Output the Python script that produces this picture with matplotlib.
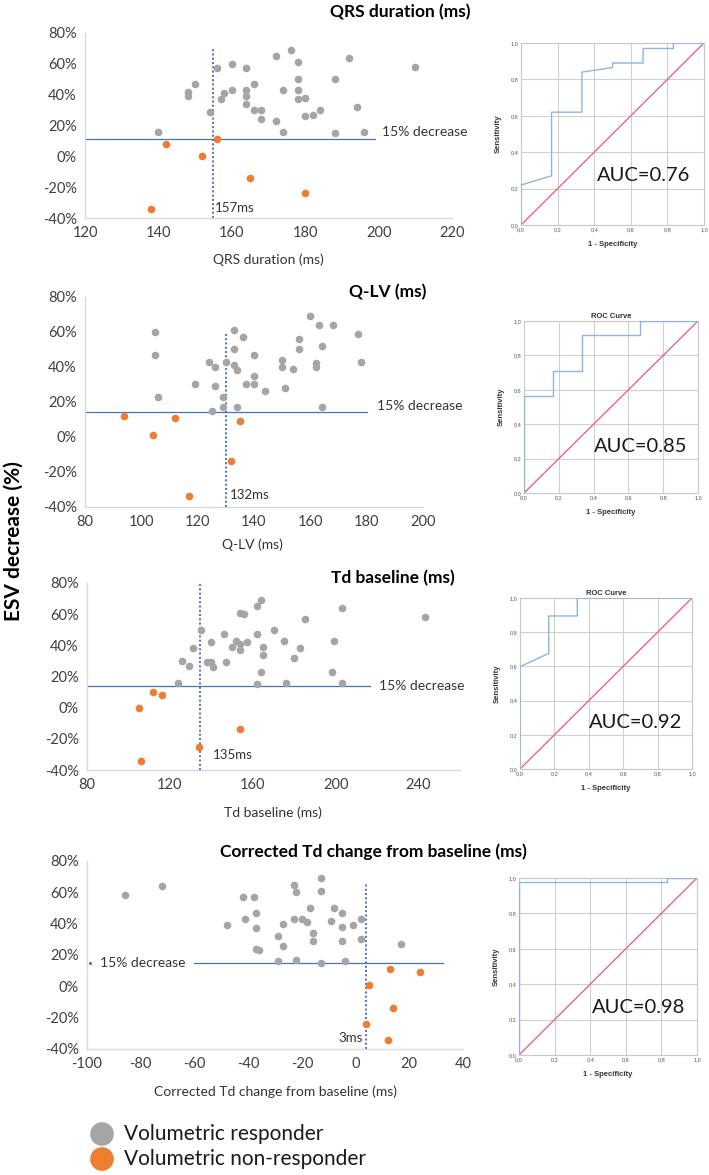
import matplotlib
matplotlib.use("Agg")
import matplotlib.pyplot as plt
from matplotlib.ticker import FuncFormatter, FixedLocator

plt.rcParams['font.family'] = ['Lato', 'DejaVu Sans']
plt.rcParams['axes.unicode_minus'] = False

W, H = 709, 1175
GRAY = '#A5A5A5'
ORANGE = '#ED7D31'
LINEBLUE = '#4472C4'

# ---- data ----
# QRS duration
qrs_resp_x = [140, 148, 148, 150, 154, 156, 157, 158, 160, 160, 164, 164, 164, 164, 166, 166, 168, 168,
              172, 172, 174, 174, 176, 178, 178, 178, 178, 180, 180, 182, 184, 188, 188, 192, 194, 196, 210]
qrs_resp_y = [16, 42, 39, 47, 29, 57, 37, 41, 60, 43, 57, 43, 39, 34, 47, 30, 30, 24,
              65, 23, 43, 16, 69, 61, 50, 43, 37, 38, 26, 27, 30, 50, 15, 64, 32, 16, 58]
qrs_non_x = [142, 152, 156, 165, 180, 138]
qrs_non_y = [8, 0, 11, -14, -24, -34]

# Q-LV
qlv_resp_x = [105, 105, 106, 119, 124, 125, 126, 126, 129, 129, 130, 133, 133, 133, 134, 134, 136, 137,
              140, 140, 140, 144, 150, 150, 151, 154, 160, 156, 156, 163, 162, 162, 164, 164, 168, 177, 178]
qlv_resp_y = [60, 47, 23, 30, 43, 15, 40, 29, 23, 17, 43, 61, 50, 41, 38, 17, 57, 30,
              47, 35, 30, 26, 44, 40, 28, 39, 69, 56, 50, 64, 42, 40, 52, 17, 64, 59, 43]
qlv_non_x = [94, 104, 112, 135, 132, 117]
qlv_non_y = [12, 1, 11, 9, -14, -34]

# Td baseline
td_resp_x = [124, 126, 129, 131, 135, 140, 138, 140, 141, 146, 147, 150, 152, 154, 154, 154, 157, 156,
             162, 162, 164, 164, 162, 165, 165, 170, 175, 176, 180, 183, 185, 198, 199, 203, 203, 243]
td_resp_y = [16, 30, 27, 38, 50, 42, 29, 29, 26, 47, 29, 39, 43, 61, 37, 41, 42, 60,
             65, 47, 69, 23, 15, 39, 34, 50, 43, 16, 32, 38, 57, 23, 43, 64, 16, 58]
td_non_x = [112, 116, 105, 106, 134, 154]
td_non_y = [10, 8, 0, -34, -25, -14]

# Corrected Td change from baseline
ctd_resp_x = [-86, -72, -48, -42, -41, -38, -37, -37, -37, -36, -29, -29, -27, -27, -23, -23, -22, -22,
              -20, -18, -17, -16, -16, -13, -13, -13, -9, -8, -5, -5, -5, -4, -1, 2, 2, 17]
ctd_resp_y = [58, 64, 39, 57, 43, 57, 47, 37, 24, 23, 32, 16, 40, 26, 65, 43, 60, 17,
              43, 41, 50, 34, 29, 69, 61, 15, 42, 50, 47, 38, 29, 16, 39, 43, 30, 27]
ctd_non_x = [4, 5, 13, 14, 12, 24]
ctd_non_y = [-24, 1, 11, -14, -34, 9]

# ROC curves (1 - specificity, sensitivity)
roc_qrs_x = [0, 0, 0.167, 0.167, 0.333, 0.333, 0.5, 0.5, 0.667, 0.667, 0.833, 0.833, 1.0]
roc_qrs_y = [0, 0.22, 0.27, 0.62, 0.62, 0.84, 0.865, 0.89, 0.89, 0.97, 0.97, 1.0, 1.0]
roc_qlv_x = [0, 0, 0.167, 0.167, 0.333, 0.333, 0.667, 0.667, 1.0]
roc_qlv_y = [0, 0.566, 0.566, 0.707, 0.707, 0.921, 0.921, 1.0, 1.0]
roc_td_x = [0, 0, 0.167, 0.167, 0.333, 0.333, 1.0]
roc_td_y = [0, 0.598, 0.676, 0.895, 0.895, 1.0, 1.0]
roc_ctd_x = [0, 0, 0.831, 0.831, 1.0]
roc_ctd_y = [0, 0.976, 0.976, 1.0, 1.0]
auc_values = ['0.76', '0.85', '0.92', '0.98']


def px_axes(fig, x0, y0, x1, y1):
    return fig.add_axes([x0 / W, 1 - y1 / H, (x1 - x0) / W, (y1 - y0) / H])


def scatter_panel(ax, rx, ry, nx, ny, xlim, xticks, cut, cut_top, hline_y, hline_x, cut_label,
                  cut_label_xy, dec_xy, dec_ha='left'):
    ax.scatter(rx, ry, s=30, color=GRAY, zorder=3, linewidths=0)
    ax.scatter(nx, ny, s=30, color=ORANGE, zorder=3, linewidths=0)
    ax.plot(hline_x, [hline_y, hline_y], color=LINEBLUE, lw=0.9, zorder=2)
    ax.plot([cut, cut], [-40, cut_top], color=LINEBLUE, lw=1.4, ls=(0, (1, 1.2)), zorder=2)
    ax.text(cut_label_xy[0], cut_label_xy[1], cut_label, fontsize=9.5, color='#333333',
            ha='left' if cut_label != '3ms' else 'right', va='center')
    ax.text(dec_xy[0], dec_xy[1], '15% decrease', fontsize=10, color='#333333', ha=dec_ha, va='center')
    ax.set_xlim(*xlim)
    ax.set_ylim(-40, 80)
    ax.xaxis.set_major_locator(FixedLocator(xticks))
    ax.yaxis.set_major_locator(FixedLocator(range(-40, 81, 20)))
    ax.yaxis.set_major_formatter(FuncFormatter(lambda v, p: f'{int(v)}%'))
    for s in ['top', 'right']:
        ax.spines[s].set_visible(False)
    for s in ['left', 'bottom']:
        ax.spines[s].set_color('#D9D9D9')
        ax.spines[s].set_linewidth(1.0)
    ax.tick_params(length=0, labelsize=10.5, colors='#404040', pad=6)
    ax.set_facecolor('none')


def roc_panel(ax, fx, fy, auc, title=None):
    ax.plot(fx, fy, color='#8DB4E2', lw=1.0, zorder=3)
    ax.plot([0, 1], [0, 1], color='#E8587A', lw=0.9, zorder=2)
    ax.set_xlim(0, 1)
    ax.set_ylim(0, 1)
    ticks = [0, 0.2, 0.4, 0.6, 0.8, 1.0]
    ax.set_xticks(ticks)
    ax.set_yticks(ticks)
    lab = [f'{t:.1f}'.replace('.', ',') for t in ticks]
    ax.set_xticklabels(lab, family='Liberation Sans')
    ax.set_yticklabels(lab, family='Liberation Sans')
    ax.tick_params(length=0, labelsize=4, colors='#555555', pad=2)
    ax.grid(True, color='#D0D0D0', lw=0.8)
    for s in ax.spines.values():
        s.set_color('#C8C8C8')
        s.set_linewidth(0.8)
    ax.set_xlabel('1 - Specificity', fontsize=5.5, fontweight='bold', family='Liberation Sans',
                  color='#333333', labelpad=6)
    ax.set_ylabel('Sensitivity', fontsize=5.5, fontweight='bold', family='Liberation Sans',
                  color='#333333', labelpad=6)
    if title:
        ax.set_title(title, fontsize=5.5, fontweight='bold', family='Liberation Sans',
                     color='#333333', pad=2)
    ax.text(0.67, 0.27, f'AUC={auc}', fontsize=14.5, color='#1a1a1a', ha='center', va='center')


fig = plt.figure(figsize=(W / 100, H / 100), dpi=100)

# panel 1: QRS duration
ax1 = px_axes(fig, 85, 33, 452, 218)
scatter_panel(ax1, qrs_resp_x, qrs_resp_y, qrs_non_x, qrs_non_y, (120, 220), range(120, 221, 20),
              155, 70, 11.2, [120, 199], '157ms', (155.3, -33.5), (201, 15.6))
fig.text(400 / W, 1 - 12 / H, 'QRS duration (ms)', fontsize=12.5, fontweight='bold', ha='center', va='center')
fig.text(268 / W, 1 - 260 / H, 'QRS duration (ms)', fontsize=10, color='#333333', ha='center', va='center')

# panel 2: Q-LV
ax2 = px_axes(fig, 85, 297, 423, 507)
scatter_panel(ax2, qlv_resp_x, qlv_resp_y, qlv_non_x, qlv_non_y, (80, 200), range(80, 201, 20),
              130, 59, 14, [80, 180], '132ms', (131.5, -33), (183.5, 17.5))
fig.text(388 / W, 1 - 292 / H, 'Q-LV (ms)', fontsize=12.5, fontweight='bold', ha='center', va='center')
fig.text(252 / W, 1 - 545 / H, 'Q-LV (ms)', fontsize=10, color='#333333', ha='center', va='center')

# panel 3: Td baseline
ax3 = px_axes(fig, 87, 583, 460, 770)
scatter_panel(ax3, td_resp_x, td_resp_y, td_non_x, td_non_y, (80, 260), range(80, 241, 40),
              134.6, 82, 14.1, [80, 216.5], '135ms', (140.5, -30.5), (221, 14.1))
fig.text(393 / W, 1 - 578 / H, 'Td baseline (ms)', fontsize=12.5, fontweight='bold', ha='center', va='center')
fig.text(273 / W, 1 - 813 / H, 'Td baseline (ms)', fontsize=10, color='#333333', ha='center', va='center')

# panel 4: corrected Td change
ax4 = px_axes(fig, 87, 861, 463, 1049)
scatter_panel(ax4, ctd_resp_x, ctd_resp_y, ctd_non_x, ctd_non_y, (-100, 40), range(-100, 41, 20),
              3.8, 65.6, 14.7, [-60, 32.6], '3ms', (2.5, -33), (-95, 14.7))
ax4.plot([-99], [14.7], marker='o', ms=1.2, color=LINEBLUE, lw=0)
fig.text(373 / W, 1 - 852 / H, 'Corrected Td change from baseline (ms)', fontsize=12.5, fontweight='bold',
         ha='center', va='center')
fig.text(276 / W, 1 - 1092 / H, 'Corrected Td change from baseline (ms)', fontsize=10, color='#333333',
         ha='center', va='center')

# shared y label
fig.text(14 / W, 1 - 541 / H, 'ESV decrease (%)', fontsize=15, fontweight='bold', rotation=90,
         ha='center', va='center')

# ROC panels
r1 = px_axes(fig, 521, 43, 704, 225)
roc_panel(r1, roc_qrs_x, roc_qrs_y, auc_values[0])
r2 = px_axes(fig, 524, 321, 698, 493)
roc_panel(r2, roc_qlv_x, roc_qlv_y, auc_values[1], 'ROC Curve')
r3 = px_axes(fig, 520, 598, 692, 769)
roc_panel(r3, roc_td_x, roc_td_y, auc_values[2], 'ROC Curve')
r4 = px_axes(fig, 519, 878, 697, 1055)
roc_panel(r4, roc_ctd_x, roc_ctd_y, auc_values[3])

# legend
fig.text(124 / W, 1 - 1134 / H, 'Volumetric responder', fontsize=15, color='#1a1a1a', ha='left', va='center')
fig.text(124 / W, 1 - 1159 / H, 'Volumetric non-responder', fontsize=15, color='#1a1a1a', ha='left', va='center')
lg = fig.add_axes([0, 0, 1, 1])
lg.set_xlim(0, W)
lg.set_ylim(H, 0)
lg.axis('off')
lg.scatter([102, 102], [1134, 1159], s=290, color=[GRAY, ORANGE], linewidths=0)

fig.savefig('out.png', dpi=100)
